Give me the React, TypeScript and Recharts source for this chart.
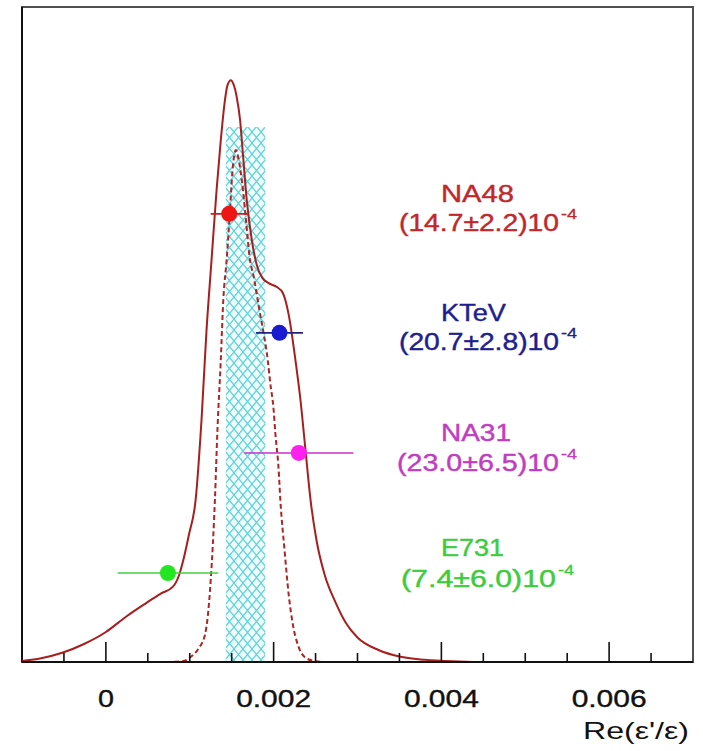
import React from "react";
import {
  ComposedChart,
  Line,
  Scatter,
  ErrorBar,
  XAxis,
  YAxis,
  ReferenceArea,
  ReferenceLine,
} from "recharts";

// ---------- data ----------
const xDomain: [number, number] = [-0.001, 0.007];
const yDomain: [number, number] = [0, 12];

const majorTicks = [0, 0.002, 0.004, 0.006];
const tickLabels = ["0", "0.002", "0.004", "0.006"];
const minorTicks = [
  -0.0005, 0.0005, 0.001, 0.0015, 0.0025, 0.003, 0.0035, 0.0045, 0.005, 0.0055, 0.0065,
];
const axisTitle = "Re(\u03b5'/\u03b5)";

// combined (ideogram) curve
const solidX = [
  -0.001, -0.0008, -0.00052, -0.00026, 0, 0.00024, 0.00048, 0.00065, 0.0008, 0.00087,
  0.00093, 0.00099, 0.00107, 0.00114, 0.0012, 0.00126, 0.00132, 0.00137, 0.00142, 0.00145,
  0.00149, 0.00152, 0.00156, 0.0016, 0.00163, 0.00168, 0.00174, 0.0018, 0.00186, 0.00194,
  0.00204, 0.00211, 0.00218, 0.00226, 0.00232, 0.00238, 0.00244, 0.00251, 0.00261, 0.00273,
  0.00286, 0.003, 0.00325, 0.0035, 0.0038, 0.0042, 0.0045, 0.005,
];
const solidY = [
  0.02, 0.06, 0.17, 0.33, 0.55, 0.83, 1.08, 1.25, 1.38, 1.58, 1.91, 2.33, 2.97, 4.43, 6.08,
  7.37, 8.65, 9.56, 10.3, 10.57, 10.66, 10.59, 10.35, 9.93, 9.38, 8.46, 7.73, 7.27, 7.05,
  6.94, 6.87, 6.76, 6.36, 5.53, 4.8, 3.88, 2.97, 2.24, 1.59, 1.12, 0.72, 0.45, 0.22, 0.1,
  0.04, 0.01, 0, 0,
];

// gaussian of the average
const dashedX = [
  -0.001, 0.00075, 0.00093, 0.00101, 0.00111, 0.00118, 0.00121, 0.00125, 0.0013, 0.00133,
  0.00137, 0.0014, 0.00144, 0.00148, 0.00151, 0.00155, 0.00158, 0.00162, 0.00167, 0.00171,
  0.00177, 0.00183, 0.00188, 0.00193, 0.00196, 0.002, 0.00202, 0.00206, 0.00208, 0.00213,
  0.00218, 0.00223, 0.00229, 0.00237, 0.00248, 0.0026,
];
const dashedY = [
  0, 0, 0.02, 0.09, 0.26, 0.49, 0.77, 1.5, 2.97, 4.25, 5.53, 6.63, 7.37, 8.28, 9.01, 9.38,
  9.23, 8.83, 8.1, 7.46, 7.0, 6.45, 6.03, 5.53, 5.11, 4.62, 4.2, 3.52, 2.97, 2.05, 1.23,
  0.68, 0.31, 0.09, 0.02, 0,
];

// world average band
const bandLow = 0.00143;
const bandHigh = 0.0019;
const bandTop = 9.8;

// experiments
const experiments = ["NA48", "KTeV", "NA31", "E731"];
const centralValues = [0.00147, 0.00207, 0.0023, 0.00074];
const errors = [0.00022, 0.00028, 0.00065, 0.0006];
const rowPositions = [8.21, 6.03, 3.83, 1.63];
const resultTexts = ["(14.7\u00b12.2)10", "(20.7\u00b12.8)10", "(23.0\u00b16.5)10", "(7.4\u00b16.0)10"];
const exponentText = "-4";

// ---------- styles ----------
const markerColors = ["#ee1515", "#1a1ad2", "#ff20f0", "#22e622"];
const barColors = ["#c42020", "#22227e", "#cc30cc", "#40d040"];
const textColors = ["#c0282c", "#1e1e8e", "#c23cc2", "#3ccc3c"];
const FONT = "'Liberation Sans', Arial, Helvetica, sans-serif";

const nameLayout = [
  { x: 441, y: 202, w: 73 },
  { x: 441, y: 321, w: 65 },
  { x: 441, y: 441, w: 70 },
  { x: 441, y: 556, w: 63 },
];
const resultLayout = [
  { x: 399, y: 231, w: 160 },
  { x: 399, y: 350, w: 160 },
  { x: 397, y: 471, w: 162 },
  { x: 401, y: 587, w: 155 },
];
const tickLabelWidths = [16, 75, 75, 75];

const solidData = solidX.map((x, i) => ({ x, y: solidY[i] }));
const dashedData = dashedX.map((x, i) => ({ x, y: dashedY[i] }));
const pointData = experiments.map((name, i) => ({
  name,
  x: centralValues[i],
  y: rowPositions[i],
  err: errors[i],
}));

const AxisTick = (props: any) => {
  const { x, y, payload } = props;
  const v = payload.value;
  const idx = majorTicks.findIndex((m) => Math.abs(m - v) < 1e-9);
  const major = idx >= 0;
  return (
    <g>
      <line x1={x} x2={x} y1={y} y2={y - (major ? 20 : 9)} stroke="#111" strokeWidth={1.6} />
      {major && (
        <text
          x={x}
          y={y + 45}
          textAnchor="middle"
          fontFamily={FONT}
          fontSize={23}
          fill="#111"
          stroke="#111"
          strokeWidth={0.35}
          textLength={tickLabelWidths[idx]}
          lengthAdjust="spacingAndGlyphs"
        >
          {tickLabels[idx]}
        </text>
      )}
    </g>
  );
};

const HatchBand = (props: any) => {
  const { x, y, width, height } = props;
  return (
    <g>
      <defs>
        <pattern id="xhatch" width="9" height="11" patternUnits="userSpaceOnUse">
          <path d="M0,0 L9,11 M9,0 L0,11" stroke="#5cd2d8" strokeWidth={1.2} fill="none" />
        </pattern>
      </defs>
      <rect x={x} y={y} width={width} height={height} fill="#f0fbfc" />
      <rect x={x} y={y} width={width} height={height} fill="url(#xhatch)" />
    </g>
  );
};

const makeDot = (color: string) => (props: any) => {
  const { cx, cy } = props;
  if (cx == null || cy == null) return <g />;
  return <circle cx={cx} cy={cy} r={8} fill={color} />;
};

export default function App() {
  const allTicks = [...minorTicks, ...majorTicks].sort((a, b) => a - b);
  return (
    <div style={{ position: "absolute", left: 0, top: 0, width: 703, height: 751, background: "#fff" }}>
      <ComposedChart
        width={703}
        height={751}
        margin={{ top: 7, right: 10, left: 22, bottom: 29 }}
      >
        <XAxis
          dataKey="x"
          type="number"
          domain={xDomain}
          allowDataOverflow
          ticks={allTicks}
          interval={0}
          tickSize={0}
          tickMargin={0}
          tickLine={false}
          tick={<AxisTick />}
          height={60}
          axisLine={{ stroke: "#111", strokeWidth: 2 }}
        />
        <YAxis
          dataKey="y"
          type="number"
          domain={yDomain}
          allowDataOverflow
          width={0}
          hide
        />
        <ReferenceArea
          x1={xDomain[0]}
          x2={xDomain[1]}
          y1={yDomain[0]}
          y2={yDomain[1]}
          fill="none"
          fillOpacity={0}
          stroke="#505050"
          strokeWidth={2}
          ifOverflow="visible"
        />
        <ReferenceLine x={xDomain[0]} stroke="#111" strokeWidth={2} ifOverflow="visible" />
        <ReferenceArea
          x1={bandLow}
          x2={bandHigh}
          y1={0}
          y2={bandTop}
          shape={<HatchBand />}
          ifOverflow="visible"
        />
        <Line
          data={dashedData}
          dataKey="y"
          type="monotone"
          stroke="#b02424"
          strokeWidth={2}
          strokeDasharray="5 3"
          dot={false}
          activeDot={false}
          isAnimationActive={false}
        />
        <Line
          data={solidData}
          dataKey="y"
          type="monotone"
          stroke="#a81e1e"
          strokeWidth={2}
          dot={false}
          activeDot={false}
          isAnimationActive={false}
        />
        {pointData.map((p, i) => (
          <Scatter
            key={p.name}
            data={[p]}
            dataKey="y"
            shape={makeDot(markerColors[i])}
            isAnimationActive={false}
          >
            <ErrorBar
              dataKey="err"
              direction="x"
              width={0}
              stroke={barColors[i]}
              strokeWidth={1.6}
              isAnimationActive={false}
            />
          </Scatter>
        ))}
      </ComposedChart>
      <svg
        width={703}
        height={751}
        style={{ position: "absolute", left: 0, top: 0, pointerEvents: "none" }}
      >
        {experiments.map((name, i) => (
          <g key={name}>
            <text
              x={nameLayout[i].x}
              y={nameLayout[i].y}
              fontFamily={FONT}
              fontSize={23}
              fill={textColors[i]}
              stroke={textColors[i]}
              strokeWidth={0.4}
              textLength={nameLayout[i].w}
              lengthAdjust="spacingAndGlyphs"
            >
              {name}
            </text>
            <text
              x={resultLayout[i].x}
              y={resultLayout[i].y}
              fontFamily={FONT}
              fontSize={23}
              fill={textColors[i]}
              stroke={textColors[i]}
              strokeWidth={0.4}
              textLength={resultLayout[i].w}
              lengthAdjust="spacingAndGlyphs"
            >
              {resultTexts[i]}
            </text>
            <text
              x={resultLayout[i].x + resultLayout[i].w + 2}
              y={resultLayout[i].y - 12}
              fontFamily={FONT}
              fontSize={15}
              fill={textColors[i]}
              stroke={textColors[i]}
              strokeWidth={0.3}
              textLength={16}
              lengthAdjust="spacingAndGlyphs"
            >
              {exponentText}
            </text>
          </g>
        ))}
        <text
          x={689}
          y={739}
          textAnchor="end"
          fontFamily={FONT}
          fontSize={24}
          fill="#111"
          textLength={106}
          lengthAdjust="spacingAndGlyphs"
        >
          {axisTitle}
        </text>
      </svg>
    </div>
  );
}
